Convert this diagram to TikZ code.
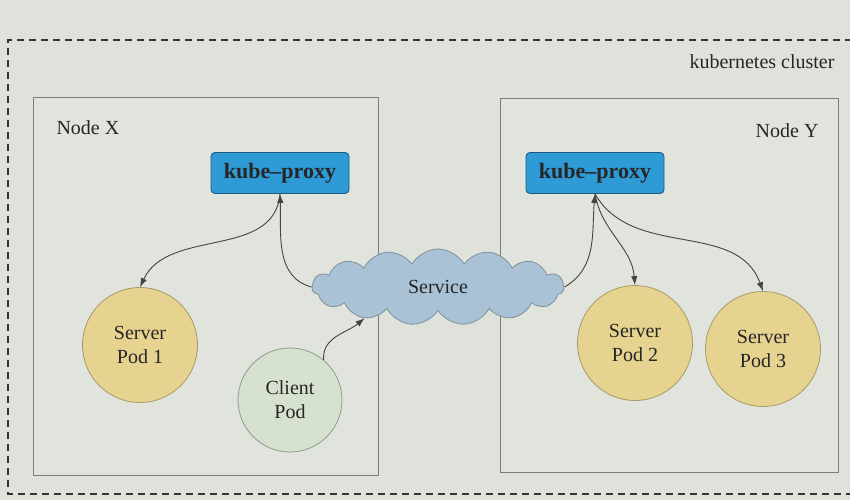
\documentclass[tikz,border=0pt]{standalone}
\usepackage{fontspec}
\setmainfont{Liberation Serif}
\usetikzlibrary{shapes.symbols,arrows.meta}
\definecolor{bg}{HTML}{DFE1DB}
\definecolor{nodebg}{HTML}{E1E3DD}
\definecolor{nodeline}{HTML}{7A7C78}
\definecolor{kpfill}{HTML}{2E9AD6}
\definecolor{kpline}{HTML}{1D5A82}
\definecolor{cloudfill}{HTML}{A9C2D5}
\definecolor{cloudline}{HTML}{7F909C}
\definecolor{spfill}{HTML}{E6D38F}
\definecolor{spline}{HTML}{A89B6B}
\definecolor{cpfill}{HTML}{D6E1CF}
\definecolor{cpline}{HTML}{8E9C8C}
\definecolor{arrcol}{HTML}{444444}
\begin{document}
\begin{tikzpicture}[x=1pt,y=-1pt,
  every node/.style={font=\fontsize{20}{24}\selectfont, text=black!85},
  hostbox/.style={draw=nodeline, fill=nodebg, line width=0.8pt},
  proxybox/.style={draw=kpline, fill=kpfill, rounded corners=4pt, line width=0.9pt,
    minimum width=138pt, minimum height=41pt, font=\fontsize{22}{24}\selectfont\bfseries},
  svpod/.style={circle, draw=spline, fill=spfill, line width=0.8pt, minimum size=115pt, align=center, inner sep=0pt},
  clpod/.style={circle, draw=cpline, fill=cpfill, line width=0.8pt, minimum size=104pt, align=center, inner sep=0pt},
  svccloud/.style={cloud, cloud puffs=15, cloud puff arc=120, aspect=3.4, draw=cloudline, fill=cloudfill,
    line width=0.8pt, minimum width=252pt, minimum height=76pt, inner sep=0pt},
  arr/.style={draw=arrcol, line width=0.9pt, -{Latex[length=9pt,width=6.5pt]}},
  clusterline/.style={draw=black!80, line width=1.2pt, dash pattern=on 7pt off 5pt}
]
\useasboundingbox (0,0) rectangle (850,500);
\fill[bg] (0,0) rectangle (850,500);
% cluster
\draw[clusterline] (852,40) -- (8,40) -- (8,494) -- (852,494);
\node[anchor=east] (cl) at (838,62) {kubernetes cluster};
% hosts
\draw[hostbox] (33,97) rectangle (378,475);
\draw[hostbox] (500,98) rectangle (838,472);
\node[anchor=west] (nx) at (53,128) {Node X};
\node[anchor=east] (ny) at (822,131) {Node Y};
% kube-proxies
\node[proxybox] (kpx) at (280,173) {kube–proxy};
\node[proxybox] (kpy) at (595,173) {kube–proxy};
% service
\node[svccloud] (svc) at (438,287) {Service};
% pods
\node[svpod] (p1) at (140,345) {Server\\Pod 1};
\node[clpod] (cp) at (290,400) {Client\\Pod};
\node[svpod] (p2) at (635,343) {Server\\Pod 2};
\node[svpod] (p3) at (763,349) {Server\\Pod 3};
% connectors
\draw[arr] (svc.west) to[out=165,in=-88] (kpx.south);
\draw[arr] (kpx.south) to[out=-95,in=65] (p1.north);
\draw[arr] (cp.50) to[out=95,in=-140] (svc.203);
\draw[arr] (svc.east) to[out=30,in=-95] (kpy.south);
\draw[arr] (kpy.south) to[out=-80,in=95] (p2.north);
\draw[arr] (kpy.south) to[out=-60,in=110] (p3.north);
\end{tikzpicture}
\end{document}
